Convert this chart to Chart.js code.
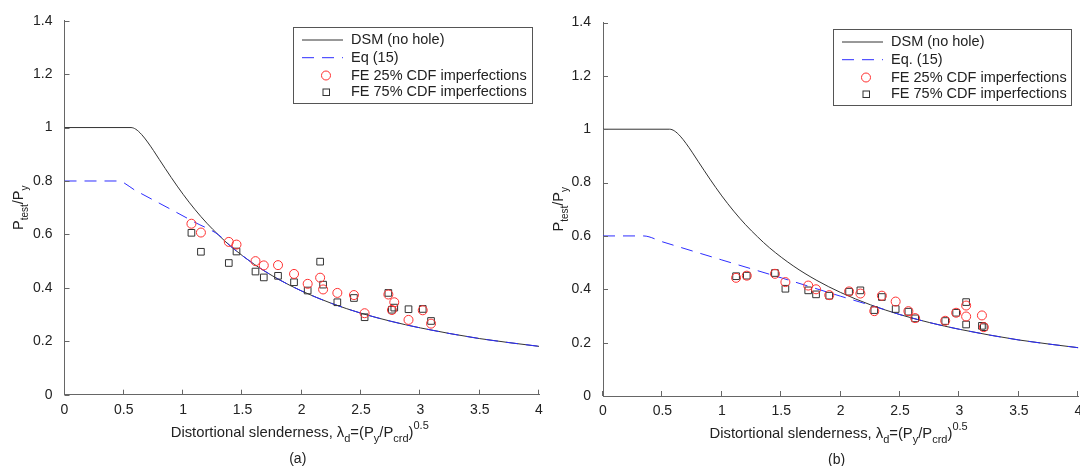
<!DOCTYPE html>
<html>
<head>
<meta charset="utf-8">
<script src="https://cdn.jsdelivr.net/npm/chart.js@4.4.1/dist/chart.umd.min.js"></script>
<style>
html,body{margin:0;padding:0;background:#fff;width:1080px;height:466px;overflow:hidden}
canvas{position:absolute;top:0}
#cA{left:0;z-index:2}
#cB{left:540px;z-index:1}
</style>
</head>
<body>
<canvas id="cA" width="560" height="466"></canvas>
<canvas id="cB" width="540" height="466"></canvas>
<script>
// ---- data ----
const xTicks = [0, 0.5, 1, 1.5, 2, 2.5, 3, 3.5, 4];
const yTicks = [0, 0.2, 0.4, 0.6, 0.8, 1, 1.2, 1.4];

// DSM (no hole) curve, both panels
const dsmX = [0, 0.561, 0.6, 0.65, 0.7, 0.75, 0.8, 0.9, 1.0, 1.1, 1.2, 1.3, 1.4, 1.6, 1.8, 2.0, 2.25, 2.5, 2.75, 3.0, 3.5, 4.0];
const dsmY = [1, 1, 0.994, 0.974, 0.946, 0.914, 0.880, 0.813, 0.750, 0.693, 0.642, 0.597, 0.556, 0.488, 0.433, 0.388, 0.342, 0.305, 0.275, 0.250, 0.210, 0.181];

// panel (a)
const eqAX = [0, 0.45, 0.6, 0.9, 1.1, 1.3, 1.4, 1.6, 1.8, 2.0, 2.25, 2.5, 2.75, 3.0, 3.5, 4.0];
const eqAY = [0.8, 0.8, 0.764, 0.693, 0.645, 0.598, 0.556, 0.488, 0.433, 0.388, 0.342, 0.305, 0.275, 0.250, 0.210, 0.181];
const slenderA = [1.07, 1.15, 1.385, 1.45, 1.61, 1.68, 1.80, 1.935, 2.05, 2.155, 2.18, 2.30, 2.44, 2.53, 2.73, 2.76, 2.78, 2.90, 3.02, 3.09];
const fe25A = [0.640, 0.607, 0.572, 0.562, 0.500, 0.484, 0.485, 0.452, 0.415, 0.438, 0.394, 0.381, 0.373, 0.305, 0.375, 0.317, 0.346, 0.280, 0.316, 0.266];
const fe75A = [0.606, 0.535, 0.493, 0.536, 0.461, 0.439, 0.445, 0.421, 0.390, 0.498, 0.412, 0.346, 0.362, 0.290, 0.381, 0.318, 0.326, 0.320, 0.321, 0.276];

// panel (b)
const eqBX = [0, 0.34, 0.5, 1.0, 1.5, 2.0, 2.34, 2.5, 2.75, 3.0, 3.5, 4.0];
const eqBY = [0.6, 0.6, 0.578, 0.510, 0.443, 0.374, 0.328, 0.305, 0.275, 0.250, 0.210, 0.181];
const slenderB = [1.12, 1.21, 1.447, 1.535, 1.727, 1.793, 1.904, 2.071, 2.166, 2.283, 2.347, 2.463, 2.57, 2.627, 2.88, 2.972, 3.056, 3.056, 3.189, 3.205];
const fe25B = [0.443, 0.451, 0.458, 0.427, 0.414, 0.400, 0.378, 0.392, 0.384, 0.318, 0.376, 0.354, 0.318, 0.292, 0.282, 0.312, 0.339, 0.298, 0.302, 0.258];
const fe75B = [0.449, 0.451, 0.461, 0.402, 0.396, 0.381, 0.376, 0.391, 0.396, 0.322, 0.371, 0.326, 0.316, 0.291, 0.281, 0.312, 0.352, 0.268, 0.263, 0.258];

const FONT = '"Liberation Sans", Arial, Helvetica, sans-serif';
const BLUE = 'rgb(45,45,255)';
const H = 466;
const pts = (xs, ys) => xs.map((x, i) => ({x: x, y: ys[i]}));
const fmt = v => String(+v.toFixed(1));

// text with sub/superscripts: parts = [[text, 0 normal | 1 sub | 2 sup]]
function rich(ctx, parts, x, y, size){
  const small = Math.round(size * 0.72);
  let w = 0;
  parts.forEach(p => { ctx.font = (p[1] ? small : size) + 'px ' + FONT; w += ctx.measureText(p[0]).width; });
  let cx = x - w / 2;
  ctx.textAlign = 'left'; ctx.textBaseline = 'middle';
  parts.forEach(p => {
    ctx.font = (p[1] ? small : size) + 'px ' + FONT;
    const dy = p[1] === 1 ? size * 0.4 : p[1] === 2 ? -size * 0.45 : 0;
    ctx.fillText(p[0], cx, y + dy);
    cx += ctx.measureText(p[0]).width;
  });
}

const decor = {
  id: 'decor',
  afterDraw(chart, args, o){
    const ctx = chart.ctx, xs = chart.scales.x, ys = chart.scales.y, a = chart.chartArea;
    ctx.save();
    // inward tick marks
    ctx.strokeStyle = '#666'; ctx.lineWidth = 1;
    ctx.beginPath();
    xTicks.forEach(v => { const px = Math.round(xs.getPixelForValue(v)) - 0.5; ctx.moveTo(px, a.bottom); ctx.lineTo(px, a.bottom - 5); });
    yTicks.forEach(v => { const py = Math.round(ys.getPixelForValue(v)) + 0.5; ctx.moveTo(a.left, py); ctx.lineTo(a.left + 5, py); });
    ctx.stroke();

    // x tick labels (drawn here so they add no layout padding)
    ctx.fillStyle = '#222'; ctx.font = '14px ' + FONT;
    ctx.textAlign = 'center'; ctx.textBaseline = 'middle';
    xTicks.forEach(v => ctx.fillText(fmt(v), xs.getPixelForValue(v), a.bottom + 15));

    // axis titles
    const cx = (a.left + a.right) / 2;
    rich(ctx, [['Distortional slenderness, \u03bb', 0], ['d', 1], ['=(P', 0], ['y', 1], ['/P', 0], ['crd', 1], [')', 0], ['0.5', 2]], cx - 2, a.bottom + 38, 14.8);
    rich(ctx, [[o.panel, 0]], cx - 4, a.bottom + 64, 14);
    ctx.save();
    ctx.translate(19, (a.top + a.bottom) / 2);
    ctx.rotate(-Math.PI / 2);
    rich(ctx, [['P', 0], ['test', 1], ['/P', 0], ['y', 1]], 0, 0, 14.5);
    ctx.restore();

    // legend box
    const L = o.box;
    ctx.fillStyle = '#fff';
    ctx.fillRect(L[0], L[1], L[2] - L[0], L[3] - L[1]);
    ctx.strokeStyle = '#555';
    ctx.strokeRect(L[0] + 0.5, L[1] + 0.5, L[2] - L[0], L[3] - L[1]);
    const rows = [L[1] + 13, L[1] + 30.7, L[1] + 48.5, L[1] + 65];
    const sx0 = L[0] + 9, sx1 = L[0] + 50, mx = L[0] + 33, tx = L[0] + 58;
    ctx.lineWidth = 1;
    ctx.strokeStyle = '#333';
    ctx.beginPath(); ctx.moveTo(sx0, rows[0]); ctx.lineTo(sx1, rows[0]); ctx.stroke();
    ctx.strokeStyle = BLUE; ctx.setLineDash([12, 8]);
    ctx.beginPath(); ctx.moveTo(sx0, rows[1]); ctx.lineTo(sx1, rows[1]); ctx.stroke();
    ctx.setLineDash([]);
    ctx.strokeStyle = '#ff3030';
    ctx.beginPath(); ctx.arc(mx, rows[2], 4.5, 0, Math.PI * 2); ctx.stroke();
    ctx.strokeStyle = '#333';
    ctx.strokeRect(mx - 3, rows[3] - 3, 6.5, 6.5);
    ctx.fillStyle = '#222'; ctx.font = '14.5px ' + FONT; ctx.textAlign = 'left'; ctx.textBaseline = 'middle';
    o.labels.forEach((t, i) => ctx.fillText(t, tx, rows[i]));
    ctx.restore();
  }
};

function makePanel(id, d, g){
  const cv = document.getElementById(id);
  new Chart(cv, {
    type: 'scatter',
    data: {datasets: [
      {label: 'FE 25% CDF imperfections', data: pts(d.sx, d.c), pointStyle: 'circle', pointRadius: 4.5,
       borderColor: '#ff3030', backgroundColor: 'rgba(0,0,0,0)', borderWidth: 1, order: 1},
      {label: 'FE 75% CDF imperfections', data: pts(d.sx, d.s), pointStyle: 'rect', pointRadius: 4.7,
       borderColor: '#333', backgroundColor: 'rgba(0,0,0,0)', borderWidth: 1, order: 2},
      {label: d.labels[1], data: pts(d.ex, d.ey), showLine: true, pointRadius: 0, borderColor: BLUE,
       borderWidth: 1, borderDash: [12, 8], cubicInterpolationMode: 'monotone', order: 3},
      {label: 'DSM (no hole)', data: pts(dsmX, dsmY), showLine: true, pointRadius: 0, borderColor: '#333',
       borderWidth: 1, cubicInterpolationMode: 'monotone', order: 4}
    ]},
    options: {
      responsive: false, animation: false, events: [],
      layout: {autoPadding: false, padding: {left: 0, top: g.top, right: cv.width - g.right, bottom: 0}},
      plugins: {legend: {display: false}, tooltip: {enabled: false},
        decor: {panel: d.panel, box: d.box, labels: d.labels}},
      scales: {
        x: {type: 'linear', min: 0, max: 4, grid: {display: false}, border: {display: true, color: '#666'},
          afterBuildTicks: s => { s.ticks = xTicks.map(v => ({value: v})); },
          afterFit: s => { s.height = H - g.bottom; s.paddingLeft = 0; s.paddingRight = 0; },
          ticks: {display: false}},
        y: {type: 'linear', min: 0, max: 1.4, grid: {display: false}, border: {display: true, color: '#666'},
          afterBuildTicks: s => { s.ticks = yTicks.map(v => ({value: v})); },
          afterFit: s => { s.width = g.left; s.paddingTop = 0; s.paddingBottom = 0; },
          ticks: {padding: 4, color: '#222', font: {family: FONT, size: 14}, callback: fmt}}
      }
    },
    plugins: [decor]
  });
}

makePanel('cA',
  {sx: slenderA, c: fe25A, s: fe75A, ex: eqAX, ey: eqAY, panel: '(a)', box: [293, 27, 532, 103],
   labels: ['DSM (no hole)', 'Eq (15)', 'FE 25% CDF imperfections', 'FE 75% CDF imperfections']},
  {left: 64.5, right: 539, top: 20.7, bottom: 394.7});
makePanel('cB',
  {sx: slenderB, c: fe25B, s: fe75B, ex: eqBX, ey: eqBY, panel: '(b)', box: [293, 29, 531, 105],
   labels: ['DSM (no hole)', 'Eq. (15)', 'FE 25% CDF imperfections', 'FE 75% CDF imperfections']},
  {left: 63, right: 538.3, top: 22.5, bottom: 396});
</script>
</body>
</html>
